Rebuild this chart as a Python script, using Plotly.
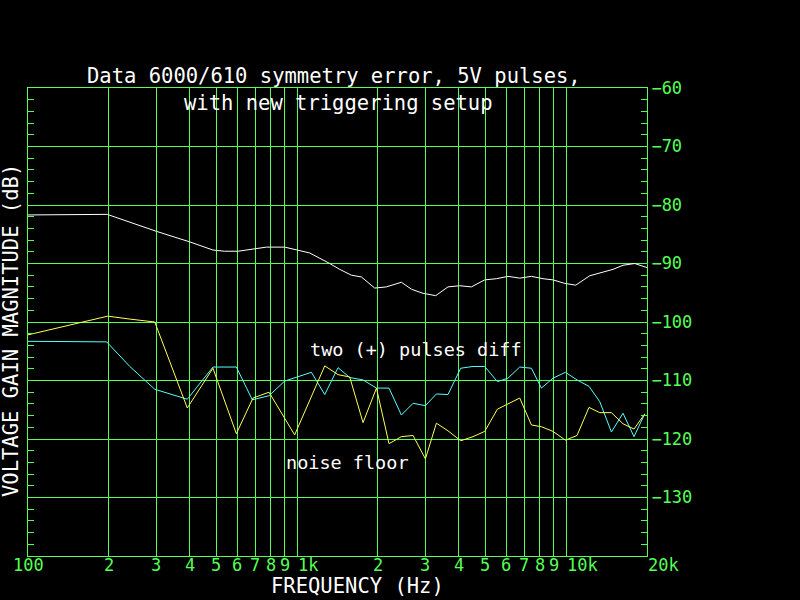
import math
import plotly.graph_objects as go

# ---------------- data ----------------
white_f = [100, 139, 197, 300, 399, 487, 538, 604, 667, 770, 900, 995, 1115, 1323, 1441,
           1593, 1735, 1945, 2149, 2443, 2663, 2941, 3278, 3641, 4025, 4450, 4986, 5512,
           6086, 6729, 7437, 8212, 8946, 9890, 10866, 12246, 13728, 14950, 16290, 18001, 20000]
white_db = [-81.7, -81.6, -81.6, -84.5, -86.3, -87.7, -87.9, -87.9, -87.6, -87.2, -87.2, -87.7,
            -88.2, -90.0, -91.0, -92.0, -92.3, -94.2, -94.0, -93.2, -94.4, -95.1, -95.5, -94.0,
            -93.8, -94.0, -92.8, -92.6, -92.2, -92.5, -92.2, -92.6, -92.8, -93.4, -93.7, -92.1,
            -91.5, -91.0, -90.3, -90.0, -90.7]

noise_f = [100, 198, 239, 296, 391, 487, 595, 686, 787, 980, 1268, 1421, 1570, 1760, 1974,
           2198, 2443, 2700, 3001, 3298, 3641, 4060, 4511, 4986, 5559, 6086, 6729, 7437, 8101,
           8946, 9950, 10987, 12173, 13345, 14748, 16290, 17894, 19617]
noise_db = [-102.2, -99.0, -99.5, -100.0, -114.7, -107.9, -119.1, -113.0, -112.0, -119.3,
            -107.5, -109.0, -109.4, -117.2, -111.3, -120.8, -119.6, -119.4, -123.4, -117.3,
            -118.6, -120.3, -119.6, -118.7, -114.9, -114.0, -113.0, -117.6, -117.9, -118.7,
            -120.2, -119.4, -114.6, -115.5, -115.5, -117.4, -118.3, -115.7]

diff_f = [100, 139, 196, 239, 296, 391, 487, 595, 682, 787, 900, 1131, 1268, 1421, 1570, 1760,
          1974, 2198, 2443, 2700, 3001, 3298, 3641, 4060, 4511, 4986, 5559, 6086, 6729, 7437,
          8101, 8946, 9950, 10987, 12173, 13345, 14748, 16290, 17894, 19617]
diff_db = [-103.3, -103.4, -103.4, -107.6, -111.5, -113.2, -107.7, -107.7, -113.3, -112.6,
           -110.1, -108.6, -112.4, -107.8, -109.5, -109.9, -111.3, -111.3, -115.9, -113.9,
           -114.3, -112.3, -112.4, -107.9, -107.6, -107.6, -110.2, -109.6, -107.7, -107.9,
           -111.3, -109.6, -108.6, -109.9, -111.0, -113.6, -118.8, -115.6, -119.6, -115.7]

grid_freqs = [200, 300, 400, 500, 600, 700, 800, 900, 1000, 2000, 3000, 4000, 5000, 6000,
              7000, 8000, 9000, 10000]
x_label_vals = [100, 200, 300, 400, 500, 600, 700, 800, 900, 1000, 2000, 3000, 4000, 5000,
                6000, 7000, 8000, 9000, 10000, 20000]
x_label_text = ["100", "2", "3", "4", "5", "6", "7", "8", "9", "1k", "2", "3", "4", "5",
                "6", "7", "8", "9", "10k", "20k"]
y_tick_vals = [-60, -70, -80, -90, -100, -110, -120, -130]
y_tick_text = ["\u221260", "\u221270", "\u221280", "\u221290", "\u2212100", "\u2212110",
               "\u2212120", "\u2212130"]

title1 = "Data 6000/610 symmetry error, 5V pulses,"
title2 = "with new triggering setup"
x_title = "FREQUENCY (Hz)"
y_title = "VOLTAGE GAIN MAGNITUDE (dB)"
label_diff = "two (+) pulses diff"
label_noise = "noise floor"

# ---------------- style ----------------
GREEN = "#55ff55"
FONT = "DejaVu Sans Mono"
W, H = 800, 600
PLOT_L, PLOT_T, PW, PH = 28, 88, 619, 468      # plot area in page pixels
L, T = PLOT_L, PLOT_T
R, B = W - L - PW, H - T - PH


def px(xp):
    return (xp - PLOT_L) / PW


def py(yp):
    return (PLOT_T + PH - yp) / PH


fig = go.Figure()
fig.add_trace(go.Scatter(x=white_f, y=white_db, mode="lines",
                         line=dict(color="#ffffff", width=1), showlegend=False))
fig.add_trace(go.Scatter(x=diff_f, y=diff_db, mode="lines",
                         line=dict(color="#55ffff", width=1), showlegend=False))
fig.add_trace(go.Scatter(x=noise_f, y=noise_db, mode="lines",
                         line=dict(color="#ffff55", width=1), showlegend=False))

annotations = []
for v, t in zip(x_label_vals, x_label_text):
    annotations.append(dict(x=math.log10(v), xref="x", y=py(565), yref="paper",
                            text=t, showarrow=False,
                            xanchor="left" if t.endswith("k") else "center",
                            yanchor="middle", xshift=-1 if t.endswith("k") else 0,
                            font=dict(family=FONT, size=17, color=GREEN)))
annotations += [
    dict(x=px(334), y=py(76), xref="paper", yref="paper", text=title1, showarrow=False,
         xanchor="center", yanchor="middle", font=dict(family=FONT, size=20.5, color="#ffffff")),
    dict(x=px(182), y=py(103), xref="paper", yref="paper", text=title2, showarrow=False,
         xanchor="left", yanchor="middle", font=dict(family=FONT, size=20.5, color="#ffffff")),
    dict(x=px(357), y=py(586), xref="paper", yref="paper", text=x_title, showarrow=False,
         xanchor="center", yanchor="middle", font=dict(family=FONT, size=20.5, color="#ffffff")),
    dict(x=px(11), y=py(331), xref="paper", yref="paper", text=y_title, showarrow=False,
         textangle=-90, xanchor="center", yanchor="middle",
         font=dict(family=FONT, size=20.5, color="#ffffff")),
    dict(x=px(308), y=py(349), xref="paper", yref="paper", text=label_diff, showarrow=False,
         xanchor="left", yanchor="middle", font=dict(family=FONT, size=18.5, color="#ffffff")),
    dict(x=px(284), y=py(462), xref="paper", yref="paper", text=label_noise, showarrow=False,
         xanchor="left", yanchor="middle", font=dict(family=FONT, size=18.5, color="#ffffff")),
]

fig.update_layout(
    width=W, height=H,
    margin=dict(l=L, r=R, t=T, b=B, pad=0),
    paper_bgcolor="#000000", plot_bgcolor="#000000",
    showlegend=False,
    annotations=annotations,
    xaxis=dict(type="log", range=[2, math.log10(20000)], tickvals=grid_freqs,
               showticklabels=False, ticks="", showgrid=True, gridcolor=GREEN, gridwidth=1,
               showline=True, linecolor=GREEN, linewidth=1, mirror=True, zeroline=False,
               fixedrange=True),
    yaxis=dict(range=[-140, -60], side="right", tickvals=y_tick_vals, ticktext=y_tick_text,
               ticks="inside", ticklen=6, tickcolor=GREEN, showgrid=True, gridcolor=GREEN,
               gridwidth=1, showline=True, linecolor=GREEN, linewidth=1, mirror="ticks",
               zeroline=False, tickfont=dict(family=FONT, size=17, color=GREEN),
               minor=dict(ticks="inside", ticklen=6, tickcolor=GREEN, dtick=2, tick0=-140,
                          showgrid=False),
               fixedrange=True),
)

fig.write_html("out.html",
               config={"displayModeBar": False, "staticPlot": True},
               post_script="document.body.style.margin='0';"
                           "document.body.style.background='#000';"
                           "document.body.style.overflow='hidden';")
